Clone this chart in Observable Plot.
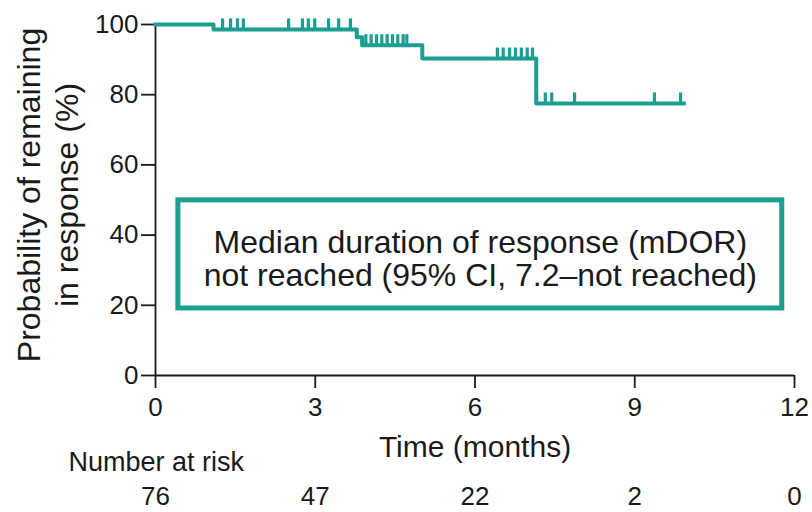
<!DOCTYPE html>
<html>
<head>
<meta charset="utf-8">
<script src="https://cdn.jsdelivr.net/npm/d3@7"></script>
<script src="https://cdn.jsdelivr.net/npm/@observablehq/plot@0.6"></script>
<style>
  html, body { margin: 0; padding: 0; background: #fff; }
  #chart { width: 812px; height: 512px; }
</style>
</head>
<body>
<div id="chart"></div>
<script>
// ---- data ----
const stepTimes = [0, 1.09, 3.78, 3.88, 5.01, 7.15, 9.92];
const stepSurvival = [100, 98.6, 96.4, 94.1, 90.3, 77.5, 77.5];
const censorTimes = [1.26, 1.41, 1.54, 1.65, 2.50, 2.76, 2.87, 2.99, 3.25, 3.44, 3.66,
  3.95, 4.05, 4.15, 4.25, 4.35, 4.45, 4.55, 4.65, 4.72,
  6.42, 6.53, 6.65, 6.76, 6.87, 6.98, 7.08,
  7.32, 7.44, 7.87, 9.37, 9.86];
const xTicks = [0, 3, 6, 9, 12];
const yTicks = [0, 20, 40, 60, 80, 100];
const riskTimes = [0, 3, 6, 9, 12];
const riskCounts = [76, 47, 22, 2, 0];
const boxLines = ["Median duration of response (mDOR)", "not reached (95% CI, 7.2\u2013not reached)"];
const boxExtent = {x1: 0.43, x2: 11.77, y1: 19.1, y2: 49.9, ty: 33.2};

// ---- derived tables ----
const curve = stepTimes.map((t, i) => ({t, s: stepSurvival[i]}));
const levelAt = t => stepSurvival[d3.bisectRight(stepTimes, t) - 1];
const censor = censorTimes.map(t => ({t, s: levelAt(t)}));
const risk = riskTimes.map((t, i) => ({t, n: riskCounts[i]}));

const teal = "#1b9f91";
const ink = "#1a1a1a";
const font = "'Liberation Sans', Arial, Helvetica, sans-serif";

const chart = Plot.plot({
  width: 812,
  height: 512,
  marginLeft: 155,
  marginRight: 18,
  marginTop: 24,
  marginBottom: 137,
  style: {fontFamily: font, color: ink, background: "#fff"},
  x: {domain: [0, 12]},
  y: {domain: [0, 100]},
  marks: [
    Plot.ruleX([0], {y1: 0, y2: 100, stroke: ink, strokeWidth: 1.8}),
    Plot.ruleY([0], {x1: 0, x2: 12, stroke: ink, strokeWidth: 1.8}),
    Plot.axisY({ticks: yTicks, tickSize: 14, tickPadding: 3, label: null, fontSize: 26, strokeWidth: 1.8}),
    Plot.axisX({ticks: xTicks, tickSize: 13, tickPadding: 9, label: null, fontSize: 26, strokeWidth: 1.8}),
    Plot.line(curve, {x: "t", y: "s", curve: "step-after", stroke: teal, strokeWidth: 4, strokeLinecap: "square"}),
    Plot.ruleX(censor, {x: "t", y1: "s", y2: d => d.s + 3, stroke: teal, strokeWidth: 3.2}),
    Plot.rect([boxExtent], {x1: "x1", x2: "x2", y1: "y1", y2: "y2", fill: "#fff", stroke: teal, strokeWidth: 5}),
    Plot.text([boxExtent], {x: d => (d.x1 + d.x2) / 2, y: "ty", text: () => boxLines.join("\n"),
      fontSize: 32, lineHeight: 1.03, fill: ink, lineAnchor: "middle"}),
    Plot.text(["Probability of remaining\nin response (%)"], {frameAnchor: "left", text: d => d, rotate: -90,
      dx: -109, dy: -5, fontSize: 32, lineHeight: 1.19, lineAnchor: "middle", textAnchor: "middle", fill: ink}),
    Plot.text(["Time (months)"], {x: () => 6, frameAnchor: "bottom", text: d => d, dy: 72,
      fontSize: 30, lineAnchor: "middle", fill: ink}),
    Plot.text(["Number at risk"], {frameAnchor: "bottom-left", text: d => d, dx: -87, dy: 87,
      textAnchor: "start", fontSize: 27, lineAnchor: "middle", fill: ink}),
    Plot.text(risk, {x: "t", frameAnchor: "bottom", text: "n", dy: 121,
      fontSize: 26, lineAnchor: "middle", fill: ink})
  ]
});
document.getElementById("chart").append(chart);
</script>
</body>
</html>
